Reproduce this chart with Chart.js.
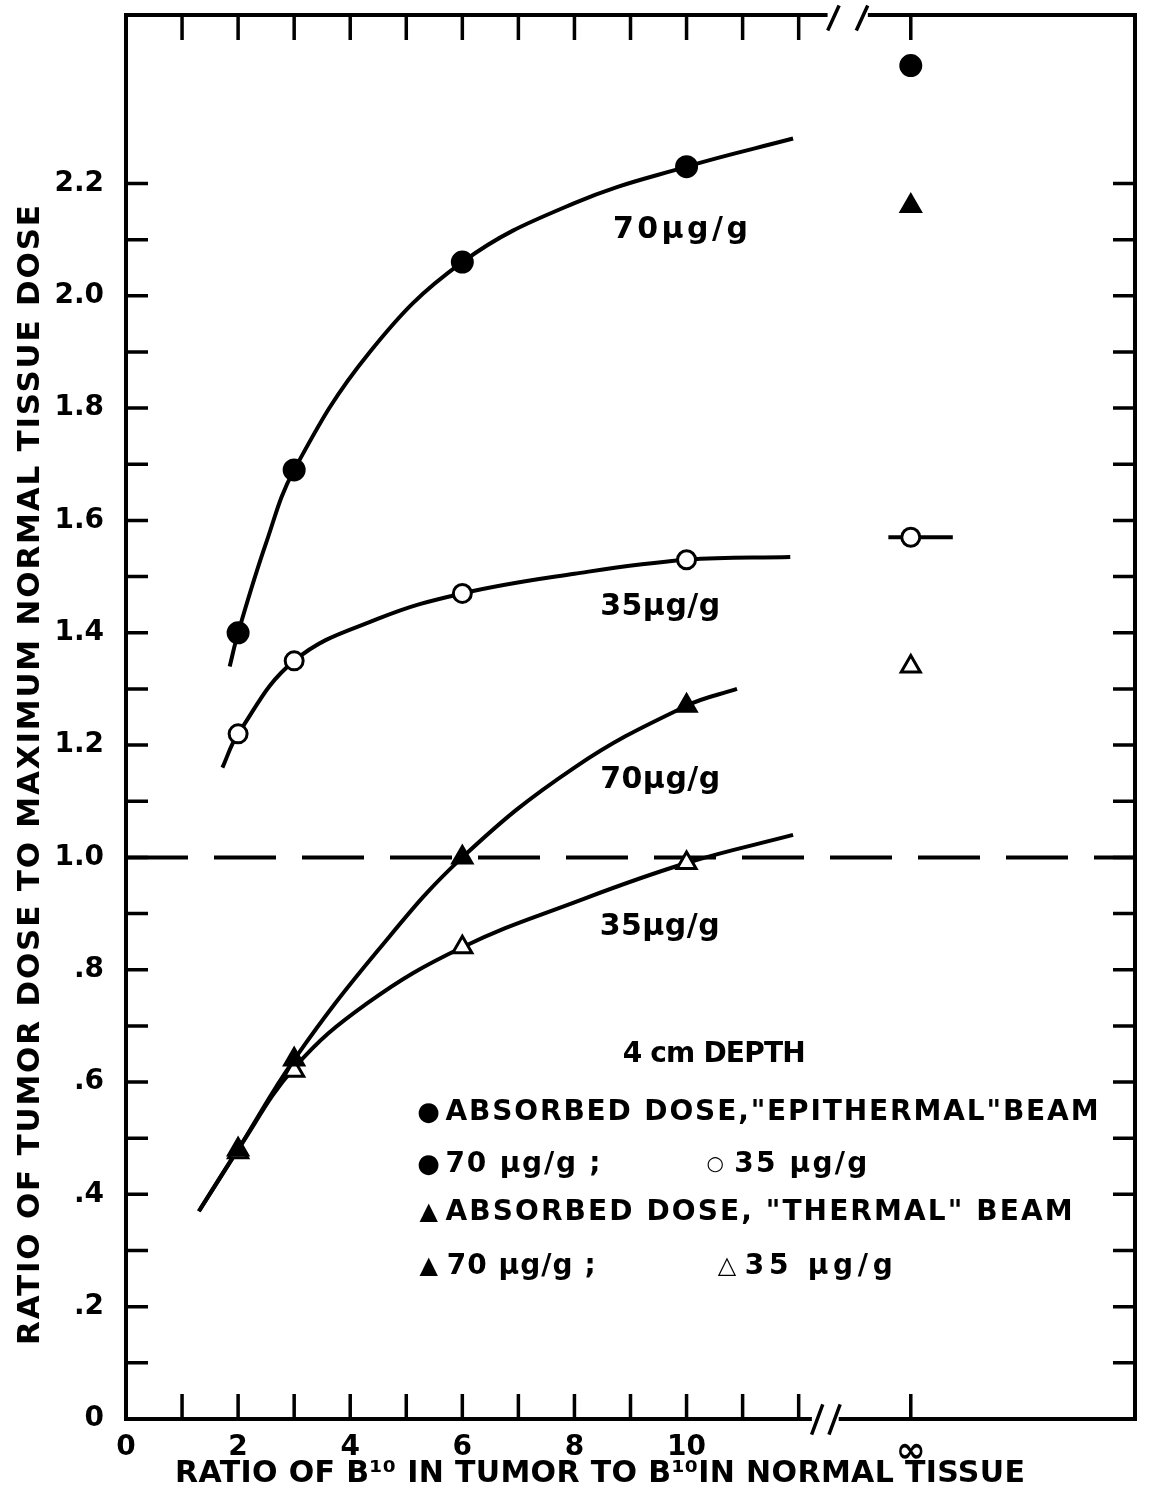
<!DOCTYPE html>
<html>
<head>
<meta charset="utf-8">
<title>Tumor dose ratio vs B10 ratio</title>
<script src="https://cdn.jsdelivr.net/npm/chart.js@4.4.0/dist/chart.umd.min.js"></script>
<style>
  body { margin: 0; background: #fff; }
  #wrap { width: 1149px; height: 1499px; }
</style>
</head>
<body>
<div id="wrap"><canvas id="chart" width="1149" height="1499"></canvas></div>
<script>
// x value 14 stands for the "infinity" position after the axis break
const xTicks = [0, 1, 2, 3, 4, 5, 6, 7, 8, 9, 10, 11, 12, 14];
const xTickLabels = ['0', '', '2', '', '4', '', '6', '', '8', '', '10', '', '', '∞'];
const yTicks = [0, 0.1, 0.2, 0.3, 0.4, 0.5, 0.6, 0.7, 0.8, 0.9, 1.0, 1.1, 1.2, 1.3, 1.4, 1.5, 1.6, 1.7, 1.8, 1.9, 2.0, 2.1, 2.2];
const yTickLabels = ['0', '', '.2', '', '.4', '', '.6', '', '.8', '', '1.0', '', '1.2', '', '1.4', '', '1.6', '', '1.8', '', '2.0', '', '2.2'];

// measured points
const ratioX = [2, 3, 6, 10, 14];
const epi70 = [1.40, 1.69, 2.06, 2.23, 2.41];
const epi35 = [1.22, 1.35, 1.47, 1.53, 1.57];
const th70 = [0.48, 0.64, 1.00, 1.27, 2.16];
const th35 = [0.475, 0.62, 0.84, 0.99, 1.34];

// hand drawn curves
const epi70CurveX = [1.85, 2, 2.5, 3, 4.35, 6, 8, 10, 11.9];
const epi70CurveY = [1.34, 1.40, 1.56, 1.69, 1.90, 2.06, 2.165, 2.23, 2.28];
const epi35CurveX = [1.72, 2, 3, 4.5, 6, 8, 10, 11.85];
const epi35CurveY = [1.16, 1.22, 1.35, 1.425, 1.47, 1.505, 1.53, 1.535];
const th70CurveX = [1.3, 2, 3, 4.5, 6, 8, 10, 10.9];
const th70CurveY = [0.37, 0.48, 0.64, 0.835, 1.00, 1.16, 1.27, 1.30];
const th35CurveX = [1.3, 2, 3, 4.3, 6, 8, 10, 11.9];
const th35CurveY = [0.37, 0.48, 0.625, 0.74, 0.84, 0.92, 0.99, 1.04];

// short bar through the 35 ug/g epithermal point at infinity
const infBarX = [13.6, 14.75];
const infBarY = [1.57, 1.57];

const refLevel = 1.0;
const xMin = 0, xMax = 18, yMin = 0, yMax = 2.5;

const pts = (xs, ys) => xs.map((x, i) => ({ x: x, y: ys[i] }));

const FONT = '"DejaVu Sans", "Liberation Sans", sans-serif';

// curve labels (data coords, centered)
const curveLabels = [
  { text: '70μg/g', x: 9.89, y: 2.117, w: 135 },
  { text: '35μg/g', x: 9.53, y: 1.446, w: 120 },
  { text: '70μg/g', x: 9.53, y: 1.138, w: 120 },
  { text: '35μg/g', x: 9.52, y: 0.876, w: 120 }
];

// legend block (data coords, left start)
const legendText = [
  { text: '4 cm DEPTH', x: 8.86, y: 0.648, w: 183 },
  { text: '●', x: 5.40, y: 0.545, c: true, size: 26 },
  { text: 'ABSORBED DOSE,"EPITHERMAL"BEAM', x: 5.70, y: 0.545, w: 653 },
  { text: '●', x: 5.40, y: 0.452, c: true, size: 26 },
  { text: '70 μg/g ;', x: 5.70, y: 0.452, w: 155 },
  { text: '○', x: 10.51, y: 0.452, c: true, size: 20 },
  { text: '35 μg/g', x: 10.85, y: 0.452, w: 133 },
  { text: '▲', x: 5.40, y: 0.367, c: true, size: 24 },
  { text: 'ABSORBED DOSE, "THERMAL" BEAM', x: 5.70, y: 0.367, w: 627 },
  { text: '▲', x: 5.40, y: 0.271, c: true, size: 24 },
  { text: '70 μg/g ;', x: 5.72, y: 0.271, w: 149 },
  { text: '△', x: 10.72, y: 0.271, c: true, size: 24 },
  { text: '35 μg/g', x: 11.04, y: 0.271, w: 148 }
];

function spaced(ctx, text, x, y, width, align) {
  ctx.letterSpacing = '0px';
  const w = ctx.measureText(text).width;
  const n = [...text].length;
  const ls = n > 1 ? (width - w) / (n - 1) : 0;
  ctx.letterSpacing = ls + 'px';
  const total = w + ls * (n - 1);
  ctx.textAlign = 'left';
  ctx.fillText(text, align === 'center' ? x - total / 2 : x, y);
  ctx.letterSpacing = '0px';
}

const framePlugin = {
  id: 'frame',
  afterDraw(chart) {
    const { ctx, chartArea: a, scales: { x, y } } = chart;
    ctx.save();
    ctx.strokeStyle = '#000';
    ctx.fillStyle = '#000';
    ctx.lineWidth = 4;
    ctx.lineCap = 'square';

    // frame with breaks on top and bottom
    const botGap = [x.getPixelForValue(12.2), x.getPixelForValue(12.75)];
    const topGap = [x.getPixelForValue(12.48), x.getPixelForValue(13.27)];
    ctx.beginPath();
    ctx.moveTo(a.left, a.top); ctx.lineTo(a.left, a.bottom);
    ctx.moveTo(a.right, a.top); ctx.lineTo(a.right, a.bottom);
    ctx.moveTo(a.left, a.bottom); ctx.lineTo(botGap[0], a.bottom);
    ctx.moveTo(botGap[1], a.bottom); ctx.lineTo(a.right, a.bottom);
    ctx.moveTo(a.left, a.top); ctx.lineTo(topGap[0], a.top);
    ctx.moveTo(topGap[1], a.top); ctx.lineTo(a.right, a.top);
    ctx.stroke();

    // break slashes
    ctx.lineWidth = 3.5;
    ctx.beginPath();
    [12.33, 12.64].forEach(v => {
      const px = x.getPixelForValue(v);
      ctx.moveTo(px - 5, a.bottom + 14); ctx.lineTo(px + 5, a.bottom - 13);
    });
    [12.62, 13.13].forEach(v => {
      const px = x.getPixelForValue(v);
      ctx.moveTo(px - 5, a.top + 14); ctx.lineTo(px + 5, a.top - 8);
    });
    ctx.stroke();

    // inward ticks
    ctx.lineWidth = 3.5;
    ctx.lineCap = 'butt';
    ctx.beginPath();
    xTicks.forEach(v => {
      if (v === 0) return;
      const px = x.getPixelForValue(v);
      ctx.moveTo(px, a.bottom); ctx.lineTo(px, a.bottom - 25);
      ctx.moveTo(px, a.top); ctx.lineTo(px, a.top + 25);
    });
    yTicks.forEach(v => {
      if (v === 0) return;
      const py = y.getPixelForValue(v);
      ctx.moveTo(a.left, py); ctx.lineTo(a.left + 22, py);
      ctx.moveTo(a.right, py); ctx.lineTo(a.right - 22, py);
    });
    ctx.stroke();

    // curve labels
    ctx.textBaseline = 'middle';
    ctx.font = 'bold 30px ' + FONT;
    curveLabels.forEach(l => {
      spaced(ctx, l.text, x.getPixelForValue(l.x), y.getPixelForValue(l.y), l.w, 'center');
    });

    // legend block
    legendText.forEach(l => {
      const px = x.getPixelForValue(l.x), py = y.getPixelForValue(l.y);
      if (l.c) {
        ctx.font = l.size + 'px ' + FONT;
        ctx.textAlign = 'center';
        ctx.fillText(l.text, px, py);
      } else {
        ctx.font = 'bold 28px ' + FONT;
        spaced(ctx, l.text, px, py, l.w, 'left');
      }
    });

    // axis titles
    ctx.font = 'bold 31px ' + FONT;
    ctx.save();
    ctx.translate(31, 775);
    ctx.rotate(-Math.PI / 2);
    spaced(ctx, 'RATIO OF TUMOR DOSE TO MAXIMUM NORMAL TISSUE DOSE', 0, 0, 1140, 'center');
    ctx.restore();
    ctx.font = 'bold 30px ' + FONT;
    spaced(ctx, 'RATIO OF B¹⁰ IN TUMOR TO B¹⁰IN NORMAL TISSUE', 600, 1474, 850, 'center');
    ctx.restore();
  }
};

const markerBase = { showLine: false, borderColor: '#000', borderWidth: 3 };
const curveBase = { showLine: true, borderColor: '#000', borderWidth: 4, pointRadius: 0, tension: 0.4, order: 5 };

new Chart(document.getElementById('chart'), {
  type: 'scatter',
  data: {
    datasets: [
      Object.assign({}, markerBase, { label: 'Epithermal 70 µg/g', data: pts(ratioX, epi70), pointStyle: 'circle', pointRadius: 10, backgroundColor: '#000', order: 1 }),
      Object.assign({}, markerBase, { label: 'Thermal 70 µg/g', data: pts(ratioX, th70), pointStyle: 'triangle', pointRadius: 11, backgroundColor: '#000', order: 1 }),
      Object.assign({}, markerBase, { label: 'Epithermal 35 µg/g', data: pts(ratioX, epi35), pointStyle: 'circle', pointRadius: 9, backgroundColor: '#fff', order: 2 }),
      Object.assign({}, markerBase, { label: 'Thermal 35 µg/g', data: pts(ratioX, th35), pointStyle: 'triangle', pointRadius: 11, backgroundColor: '#fff', order: 2 }),
      Object.assign({}, curveBase, { label: 'curve e70', data: pts(epi70CurveX, epi70CurveY) }),
      Object.assign({}, curveBase, { label: 'curve e35', data: pts(epi35CurveX, epi35CurveY) }),
      Object.assign({}, curveBase, { label: 'curve t70', data: pts(th70CurveX, th70CurveY) }),
      Object.assign({}, curveBase, { label: 'curve t35', data: pts(th35CurveX, th35CurveY) }),
      Object.assign({}, curveBase, { label: 'inf bar', data: pts(infBarX, infBarY), tension: 0 }),
      Object.assign({}, curveBase, { label: 'ratio 1', data: pts([xMin, xMax], [refLevel, refLevel]), borderDash: [62, 26], tension: 0 })
    ]
  },
  options: {
    responsive: false,
    animation: false,
    layout: { padding: { top: 15, right: 5, left: 0, bottom: 0 } },
    plugins: { legend: { display: false }, tooltip: { enabled: false } },
    scales: {
      x: {
        type: 'linear', min: xMin, max: xMax,
        grid: { display: false }, border: { display: false },
        afterBuildTicks: s => { s.ticks = xTicks.map(v => ({ value: v })); },
        afterFit: s => { s.height = 80; s.paddingLeft = 0; s.paddingRight = 0; },
        ticks: {
          autoSkip: false, maxRotation: 0, padding: 4, color: '#000',
          font: c => (c.tick && c.tick.value === 14) ? { family: FONT, size: 36, weight: 'bold' } : { family: FONT, size: 28, weight: 'bold' },
          callback: (v, i) => xTickLabels[i]
        }
      },
      y: {
        type: 'linear', min: yMin, max: yMax,
        grid: { display: false }, border: { display: false },
        afterBuildTicks: s => { s.ticks = yTicks.map(v => ({ value: v })); },
        afterFit: s => { s.width = 126; s.paddingTop = 0; s.paddingBottom = 0; },
        ticks: {
          autoSkip: false, padding: 14, color: '#000',
          font: { family: FONT, size: 28, weight: 'bold' },
          callback: (v, i) => yTickLabels[i]
        }
      }
    }
  },
  plugins: [framePlugin]
});
</script>
</body>
</html>
